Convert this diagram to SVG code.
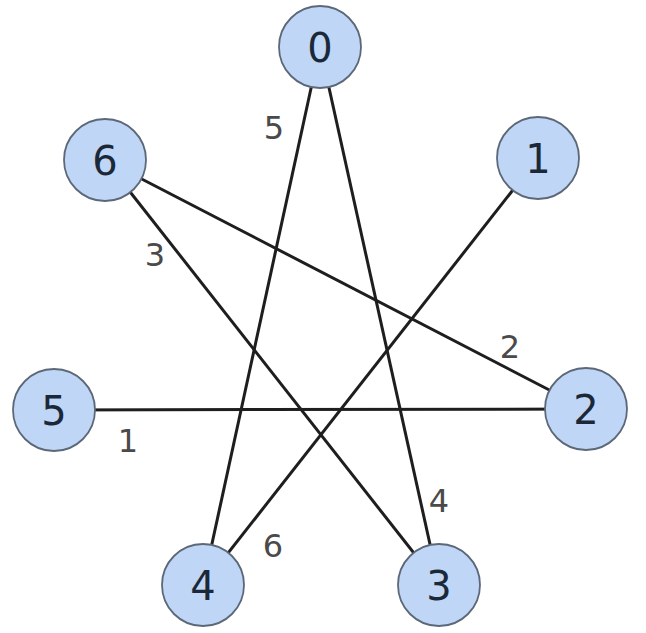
<svg xmlns="http://www.w3.org/2000/svg" width="646" height="633" viewBox="0 0 646 633">
<style>
.edge{stroke:#1e1e1e;stroke-width:3;fill:none}
.node circle{fill:#bfd6f6;stroke:#5c6878;stroke-width:1.8}
.node text{font-family:"DejaVu Sans",Verdana,sans-serif;font-size:40px;fill:#1b2838;text-anchor:middle}
.elabel{font-family:"DejaVu Sans",Verdana,sans-serif;font-size:32px;fill:#4a4a4a;text-anchor:middle}
</style>
<rect width="646" height="633" fill="#ffffff"/>
<g id="connectors">
<line class="edge" x1="320" y1="47" x2="203" y2="585"/>
<line class="edge" x1="320" y1="47" x2="439" y2="585"/>
<line class="edge" x1="105" y1="160" x2="586" y2="409"/>
<line class="edge" x1="105" y1="160" x2="439" y2="585"/>
<line class="edge" x1="538" y1="158" x2="203" y2="585"/>
<line class="edge" x1="54" y1="410" x2="586" y2="409"/>
<text class="elabel" x="274" y="139">5</text>
<text class="elabel" x="155" y="266">3</text>
<text class="elabel" x="510" y="358">2</text>
<text class="elabel" x="128" y="452">1</text>
<text class="elabel" x="439" y="512">4</text>
<text class="elabel" x="273" y="557">6</text>
</g>
<g id="node0" class="node"><circle cx="320" cy="47" r="41"/><text x="320" y="62">0</text></g>
<g id="node1" class="node"><circle cx="538" cy="158" r="41"/><text x="538" y="173">1</text></g>
<g id="node2" class="node"><circle cx="586" cy="409" r="41"/><text x="586" y="424">2</text></g>
<g id="node3" class="node"><circle cx="439" cy="585" r="41"/><text x="439" y="600">3</text></g>
<g id="node4" class="node"><circle cx="203" cy="585" r="41"/><text x="203" y="600">4</text></g>
<g id="node5" class="node"><circle cx="54" cy="410" r="41"/><text x="54" y="425">5</text></g>
<g id="node6" class="node"><circle cx="105" cy="160" r="41"/><text x="105" y="175">6</text></g>
</svg>
